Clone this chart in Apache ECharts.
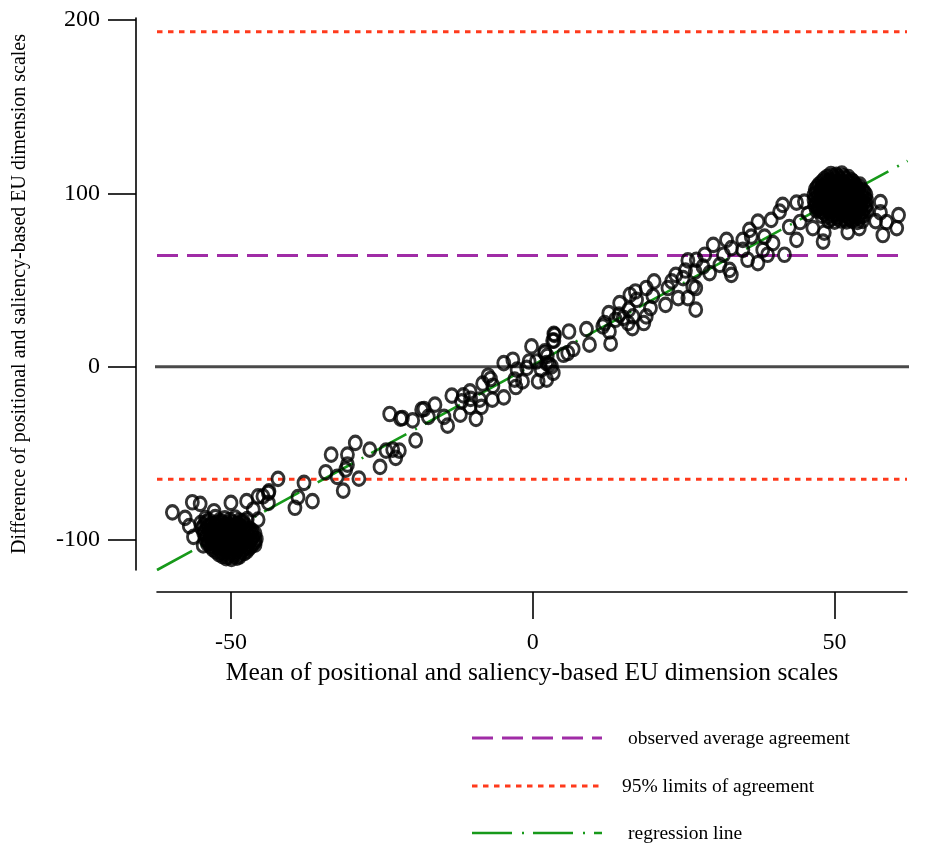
<!DOCTYPE html>
<html>
<head>
<meta charset="utf-8">
<script src="https://cdn.jsdelivr.net/npm/echarts@6/dist/echarts.min.js"></script>
<style>
  html, body { margin: 0; padding: 0; background: #fff; }
  #chart { width: 926px; height: 847px; }
</style>
</head>
<body>
<div id="chart"></div>
<script>
// Bland-Altman style agreement plot: difference vs mean of the two EU dimension scales.
// Each point is [mean, difference].

// Dense group of strongly anti-EU parties
const leftCluster = [
  [-54.2,-87.4],[-52.6,-86.8],[-51.0,-87.5],[-49.3,-87.1],
  [-53.7,-88.7],[-52.0,-88.9],[-50.2,-88.5],[-48.6,-88.8],
  [-55.0,-90.3],[-54.1,-89.8],[-53.2,-90.6],[-52.3,-90.1],[-51.5,-89.7],[-50.6,-90.4],[-49.8,-90.0],[-48.9,-90.7],[-48.1,-89.9],
  [-54.5,-91.6],[-53.6,-91.9],[-52.7,-91.5],[-51.9,-91.8],[-51.0,-91.4],[-50.2,-91.7],[-49.3,-91.5],[-48.5,-91.9],[-47.6,-91.6],
  [-54.8,-93.2],[-53.9,-92.7],[-53.0,-93.4],[-52.1,-92.9],[-51.3,-93.5],[-50.4,-92.8],[-49.5,-93.3],[-48.7,-92.6],[-47.8,-93.1],[-47.0,-93.6],
  [-54.3,-94.7],[-53.4,-94.9],[-52.5,-94.6],[-51.7,-94.8],[-50.8,-94.5],[-49.9,-94.9],[-49.0,-94.7],[-48.2,-94.4],[-47.3,-94.8],[-46.5,-94.6],
  [-54.5,-96.1],[-53.6,-95.7],[-52.8,-96.4],[-51.9,-95.8],[-51.0,-96.3],[-50.2,-95.6],[-49.3,-96.2],[-48.4,-95.9],[-47.6,-96.5],[-46.7,-95.8],[-46.0,-96.3],
  [-54.0,-97.6],[-53.2,-97.9],[-52.3,-97.5],[-51.4,-97.8],[-50.6,-97.4],[-49.7,-97.7],[-48.8,-97.6],[-48.0,-97.9],[-47.1,-97.5],[-46.3,-97.8],
  [-54.3,-99.2],[-53.4,-98.7],[-52.6,-99.4],[-51.7,-98.9],[-50.8,-99.3],[-50.0,-98.6],[-49.1,-99.1],[-48.2,-98.8],[-47.4,-99.5],[-46.5,-98.9],[-45.8,-99.4],
  [-53.7,-100.6],[-52.8,-100.9],[-52.0,-100.5],[-51.1,-100.8],[-50.2,-100.4],[-49.4,-100.7],[-48.5,-100.6],[-47.7,-100.9],[-46.8,-100.5],[-46.0,-100.8],
  [-53.9,-102.1],[-53.1,-101.7],[-52.2,-102.4],[-51.4,-101.8],[-50.5,-102.3],[-49.7,-101.6],[-48.8,-102.2],[-48.0,-101.9],[-47.1,-102.5],[-46.3,-101.8],
  [-53.4,-103.6],[-52.6,-103.9],[-51.7,-103.5],[-50.8,-103.8],[-50.0,-103.4],[-49.1,-103.7],[-48.3,-103.6],[-47.4,-103.9],[-46.6,-103.5],
  [-53.0,-105.2],[-52.1,-104.7],[-51.2,-105.4],[-50.4,-104.9],[-49.5,-105.3],[-48.7,-104.6],[-47.8,-105.1],[-47.0,-104.8],
  [-52.5,-106.6],[-51.7,-106.9],[-50.8,-106.5],[-49.9,-106.8],[-49.1,-106.4],[-48.2,-106.7],[-47.4,-106.6],
  [-52.0,-108.1],[-51.2,-107.6],[-50.3,-108.3],[-49.5,-107.8],[-48.6,-108.2],[-47.8,-107.5],
  [-51.4,-109.3],[-50.5,-109.6],[-49.5,-109.2],[-48.6,-109.5],
  [-50.8,-110.4],[-49.9,-110.9],[-49.0,-110.2],
  [-54.6,-103.1],[-53.8,-101.2],[-53.1,-99.9],[-52.4,-98.1],[-51.6,-96.9],[-50.9,-95.1],[-50.2,-93.9],[-49.5,-92.1],[-48.8,-90.9],[-48.0,-89.1],[-47.3,-87.9]
];

// Sparse points in the lower half
const lowerBand = [
  [-62.3,-68.6],[-59.7,-84],[-56.4,-78.2],[-55.1,-79.1],[-57.6,-87.2],[-56.9,-92],[-56.2,-98.2],
  [-50.0,-78.6],[-52.8,-83.4],[-46.0,-102.6],[-47.4,-77.6],[-45.5,-74.8],[-43.8,-72.8],[-43.8,-78.6],
  [-46.3,-82.4],[-45.5,-88.2],[-42.2,-64.7],[-44.7,-74.8],[-37.9,-67],[-38.9,-75.3],[-36.5,-77.6],
  [-43.7,-71.9],[-39.4,-81.4],[-34.3,-60.9],[-32.4,-63.6],[-31.0,-59.4],[-28.8,-64.6],[-31.4,-71.5],
  [-33.4,-50.7],[-30.7,-50.7],[-30.7,-56.5],[-29.4,-44],[-27.0,-47.8],[-24.3,-48.4],[-23.2,-47.8],
  [-22.1,-48.4],[-22.7,-52.6],[-25.3,-57.8],[-23.7,-27.3],[-21.9,-30],[-19.9,-31],[-18.4,-24.8],
  [-19.4,-42.5]
];

// Points around the centre of the scale
const middleBand = [
  [-21.6,-29.6],[-18.0,-24.4],[-16.2,-21.9],[-17.3,-29],[-14.7,-29],[-14.1,-34],[-13.4,-16.7],
  [-11.8,-20],[-10.4,-14.2],[-11.5,-16.5],[-10.3,-18.6],[-12.0,-27.7],[-10.4,-23.2],[-9.4,-30.1],
  [-8.5,-23.2],[-8.8,-19],[-8.3,-9.8],[-7.4,-5.2],[-7.0,-7.1],[-6.6,-11],[-6.7,-19],[-4.8,-17.7],
  [-4.8,2.1],[-3.3,4],[-2.6,-1.7],[-3.0,-7.5],[-2.8,-11.7],[-1.7,-8.5],[-1.0,-0.7],[-0.2,11.7],
  [-0.6,3],[0.6,3],[0.9,-8.5],[2.3,-7.5],[1.4,-1.7],[2.0,8.8],[2.7,1.2],[3.4,-3.6],[3.5,19],
  [3.5,15],[2.4,6.3]
];

// Points between the centre and the pro-EU group
const upperBand = [
  [2.0,7.9],[2.3,2.1],[3.1,0.2],[3.6,18.4],[3.3,15],[5.1,6.9],[5.8,7.9],[6.7,10.2],[6.0,20.3],
  [8.9,21.7],[9.4,12.7],[12.9,13.3],[12.7,20.3],[11.9,25.2],[11.6,23.3],[12.6,30.9],[13.7,27.1],
  [14.3,30],[15.0,28.2],[14.4,36.7],[15.8,25.2],[16.5,22.3],[15.9,32.9],[16.6,29],[16.1,41.5],
  [17.0,43.4],[17.2,38.6],[18.4,25.2],[18.8,29],[19.5,33.8],[22.0,35.7],[19.9,40.9],[18.8,45.4],
  [20.1,49.2],[22.4,45.4],[23.0,49.2],[23.7,53],[24.9,51.1],[24.1,39.6],[25.7,39.6],[26.5,46.3],
  [27.0,45.4],[27.0,32.9],[25.3,55.5],[25.7,61.3],[27.1,61.7],[28.5,64.6],[28.2,57.8],[26.9,54.9],
  [29.3,54],[29.9,70.3],[31.0,58.8],[32.1,73.2],[32.9,68.4],[31.6,64.6],[32.6,55.9],[32.9,53],
  [34.8,73.2],[34.8,67.4],[35.6,61.7],[35.9,79],[36.2,75.1],[37.3,83.7],[37.3,59.8],[38.4,75.1],
  [38.9,64.6],[39.5,84.7],[39.8,71.3],[38.1,67.4],[40.9,89.5],[41.4,93.4],[41.7,64.6],[43.7,73.2],
  [43.7,94.7],[45.0,95.3],[46.4,80],[48.1,72.2],[48.3,77.4],[44.3,83.5],[42.5,80.6],[45.6,88.2]
];

// Dense group of strongly pro-EU parties
const rightCluster = [
  [49.4,111.2],[50.3,110.7],[51.2,111.4],
  [48.8,109.6],[49.7,109.9],[50.6,109.5],[51.5,109.8],[52.3,109.4],
  [48.3,108.2],[49.2,107.7],[50.1,108.4],[51.0,107.9],[51.9,108.3],[52.8,107.6],
  [47.9,106.6],[48.8,106.9],[49.6,106.5],[50.5,106.8],[51.4,106.4],[52.3,106.7],[53.1,106.6],
  [47.4,105.1],[48.3,104.6],[49.2,105.3],[50.0,104.8],[50.9,105.4],[51.8,104.7],[52.7,105.2],[53.5,104.9],
  [47.1,103.6],[47.9,103.9],[48.8,103.5],[49.7,103.8],[50.6,103.4],[51.4,103.7],[52.3,103.6],[53.2,103.9],[54.1,103.5],
  [46.8,102.2],[47.6,101.7],[48.5,102.4],[49.4,101.8],[50.2,102.3],[51.1,101.6],[52.0,102.1],[52.9,101.9],[53.8,102.5],[54.6,101.8],
  [47.0,100.6],[47.9,100.9],[48.8,100.5],[49.7,100.8],[50.6,100.4],[51.5,100.7],[52.4,100.6],[53.2,100.9],[54.1,100.5],[54.9,100.8],
  [46.6,99.1],[47.5,98.6],[48.4,99.3],[49.2,98.8],[50.1,99.4],[51.0,98.7],[51.9,99.2],[52.7,98.9],[53.6,99.5],[54.5,98.8],[55.2,99.3],
  [47.0,97.6],[47.9,97.9],[48.8,97.5],[49.6,97.8],[50.5,97.4],[51.4,97.7],[52.3,97.6],[53.1,97.9],[54.0,97.5],[54.9,97.8],
  [46.6,96.2],[47.5,95.7],[48.3,96.4],[49.2,95.9],[50.1,96.3],[50.9,95.6],[51.8,96.1],[52.7,95.8],[53.5,96.4],[54.4,95.7],[55.3,96.2],
  [47.1,94.6],[48.0,94.9],[48.8,94.5],[49.7,94.8],[50.6,94.4],[51.4,94.7],[52.3,94.6],[53.1,94.9],[54.0,94.5],[54.9,94.8],
  [46.7,93.1],[47.5,92.6],[48.4,93.3],[49.3,92.8],[50.1,93.4],[51.0,92.7],[51.8,93.2],[52.7,92.9],[53.6,93.5],[54.4,92.8],[55.3,93.3],
  [47.4,91.6],[48.2,91.9],[49.1,91.5],[50.0,91.8],[50.8,91.4],[51.7,91.7],[52.6,91.6],[53.5,91.9],[54.3,91.5],[55.1,91.8],
  [47.0,90.2],[47.8,89.7],[48.7,90.4],[49.6,89.9],[50.4,90.3],[51.3,89.6],[52.2,90.1],[53.0,89.8],[53.9,90.4],[54.7,89.7],[55.4,90.2],
  [48.3,88.6],[49.2,88.9],[50.1,88.5],[50.9,88.8],[51.8,88.4],[52.7,88.7],[53.5,88.6],[54.4,88.9],
  [47.9,87.1],[48.8,86.6],[49.7,87.3],[50.5,86.8],[51.4,87.2],[52.3,86.5],[53.1,87.0],[54.0,86.7],[54.8,87.3],
  [49.5,85.6],[50.5,85.9],[51.5,85.5],[52.5,85.8],[53.4,85.4],[54.2,85.7],
  [49.0,84.2],[50.0,83.7],[51.0,84.4],[52.0,83.9],[52.9,84.3],[53.8,83.6],[54.6,84.1],
  [47.2,91.4],[47.9,92.9],[48.6,94.1],[49.3,95.6],[50.0,96.9],[50.7,98.3],[51.4,99.6],[52.1,101.1],[52.8,102.4],[53.5,103.8],[54.2,105.1]
];

// Fringe of the pro-EU group
const rightFringe = [
  [52.2,77.7],[54.1,80],[58.0,76],[58.6,83.5],[60.6,87.5],[60.3,80],[57.6,95],[57.6,89],[56.8,84]
];

// Agreement statistics
const meanDiff = 64.1;
const upperLimit = 193.2;
const lowerLimit = -64.9;
const regressionEnds = [[-62.25, -117.3], [62.1, 118.8]];
const zeroLineEnds = [[-65.75, 0], [65.1, 0]];

// Axis ranges and tick labels
const xRange = [-62.25, 62];
const yRange = [-117.3, 201.2];
const xTicks = [-50, 0, 50];
const yTicks = [-100, 0, 100, 200];

const serif = 'Liberation Serif, Times New Roman, serif';
const RED = '#ff3a1c';
const PURPLE = '#a02ca6';
const GREEN = '#17991a';

const allPoints = [].concat(leftCluster, lowerBand, middleBand, upperBand, rightCluster, rightFringe);

const chart = echarts.init(document.getElementById('chart'), null, { renderer: 'canvas' });

function hline(y, color, dash, width) {
  return {
    type: 'line', symbol: 'none', silent: true, z: 1,
    data: [[xRange[0], y], [xRange[1], y]],
    lineStyle: { color: color, width: width, type: dash }
  };
}

chart.setOption({
  animation: false,
  backgroundColor: '#ffffff',
  grid: { left: 157, right: 19, top: 18, bottom: 277 },
  xAxis: {
    type: 'value', min: xRange[0], max: xRange[1], offset: 22,
    splitLine: { show: false },
    axisLine: { show: true, onZero: false, lineStyle: { color: '#000', width: 1.6 } },
    axisTick: { show: true, length: 27, customValues: xTicks, lineStyle: { color: '#000', width: 1.6 } },
    axisLabel: { customValues: xTicks, color: '#000', fontFamily: serif, fontSize: 24, margin: 39 },
    name: 'Mean of positional and saliency-based EU dimension scales',
    nameLocation: 'middle', nameGap: 65,
    nameTextStyle: { color: '#000', fontFamily: serif, fontSize: 25.5 }
  },
  yAxis: {
    type: 'value', min: yRange[0], max: yRange[1], offset: 21,
    splitLine: { show: false },
    axisLine: { show: true, onZero: false, lineStyle: { color: '#000', width: 1.6 } },
    axisTick: { show: true, length: 28, customValues: yTicks, lineStyle: { color: '#000', width: 1.6 } },
    axisLabel: { customValues: yTicks, color: '#000', fontFamily: serif, fontSize: 24, margin: 36 },
    name: 'Difference of positional and saliency-based EU dimension scales',
    nameLocation: 'middle', nameGap: 106, nameRotate: 90,
    nameTextStyle: { color: '#000', fontFamily: serif, fontSize: 20 }
  },
  series: [
    {
      type: 'line', symbol: 'none', silent: true, clip: false, z: 1,
      data: zeroLineEnds,
      lineStyle: { color: '#4a4a4a', width: 3 }
    },
    hline(upperLimit, RED, [5.5, 5.5], 3),
    hline(lowerLimit, RED, [5.5, 5.5], 3),
    hline(meanDiff, PURPLE, [21, 9], 3),
    {
      type: 'line', symbol: 'none', silent: true, z: 1,
      data: regressionEnds,
      lineStyle: { color: GREEN, width: 2.6, type: [40, 10, 2, 9] }
    },
    {
      type: 'scatter', silent: true, z: 5,
      data: allPoints,
      symbol: 'circle', symbolSize: [12, 13.5],
      itemStyle: { color: 'rgba(0,0,0,0)', borderColor: '#000', borderWidth: 3 }
    }
  ],
  graphic: [
    { type: 'line', shape: { x1: 472, y1: 738, x2: 602, y2: 738 },
      style: { stroke: PURPLE, lineWidth: 3, lineDash: [21, 9] } },
    { type: 'line', shape: { x1: 472, y1: 786, x2: 600, y2: 786 },
      style: { stroke: RED, lineWidth: 3, lineDash: [5.5, 5.5] } },
    { type: 'line', shape: { x1: 472, y1: 833, x2: 602, y2: 833 },
      style: { stroke: GREEN, lineWidth: 2.6, lineDash: [40, 10, 2, 9] } },
    { type: 'text', left: 628, top: 729,
      style: { text: 'observed average agreement', fill: '#000', font: '19.5px ' + serif } },
    { type: 'text', left: 622, top: 777,
      style: { text: '95% limits of agreement', fill: '#000', font: '19.5px ' + serif } },
    { type: 'text', left: 628, top: 824,
      style: { text: 'regression line', fill: '#000', font: '19.5px ' + serif } }
  ]
});
</script>
</body>
</html>
